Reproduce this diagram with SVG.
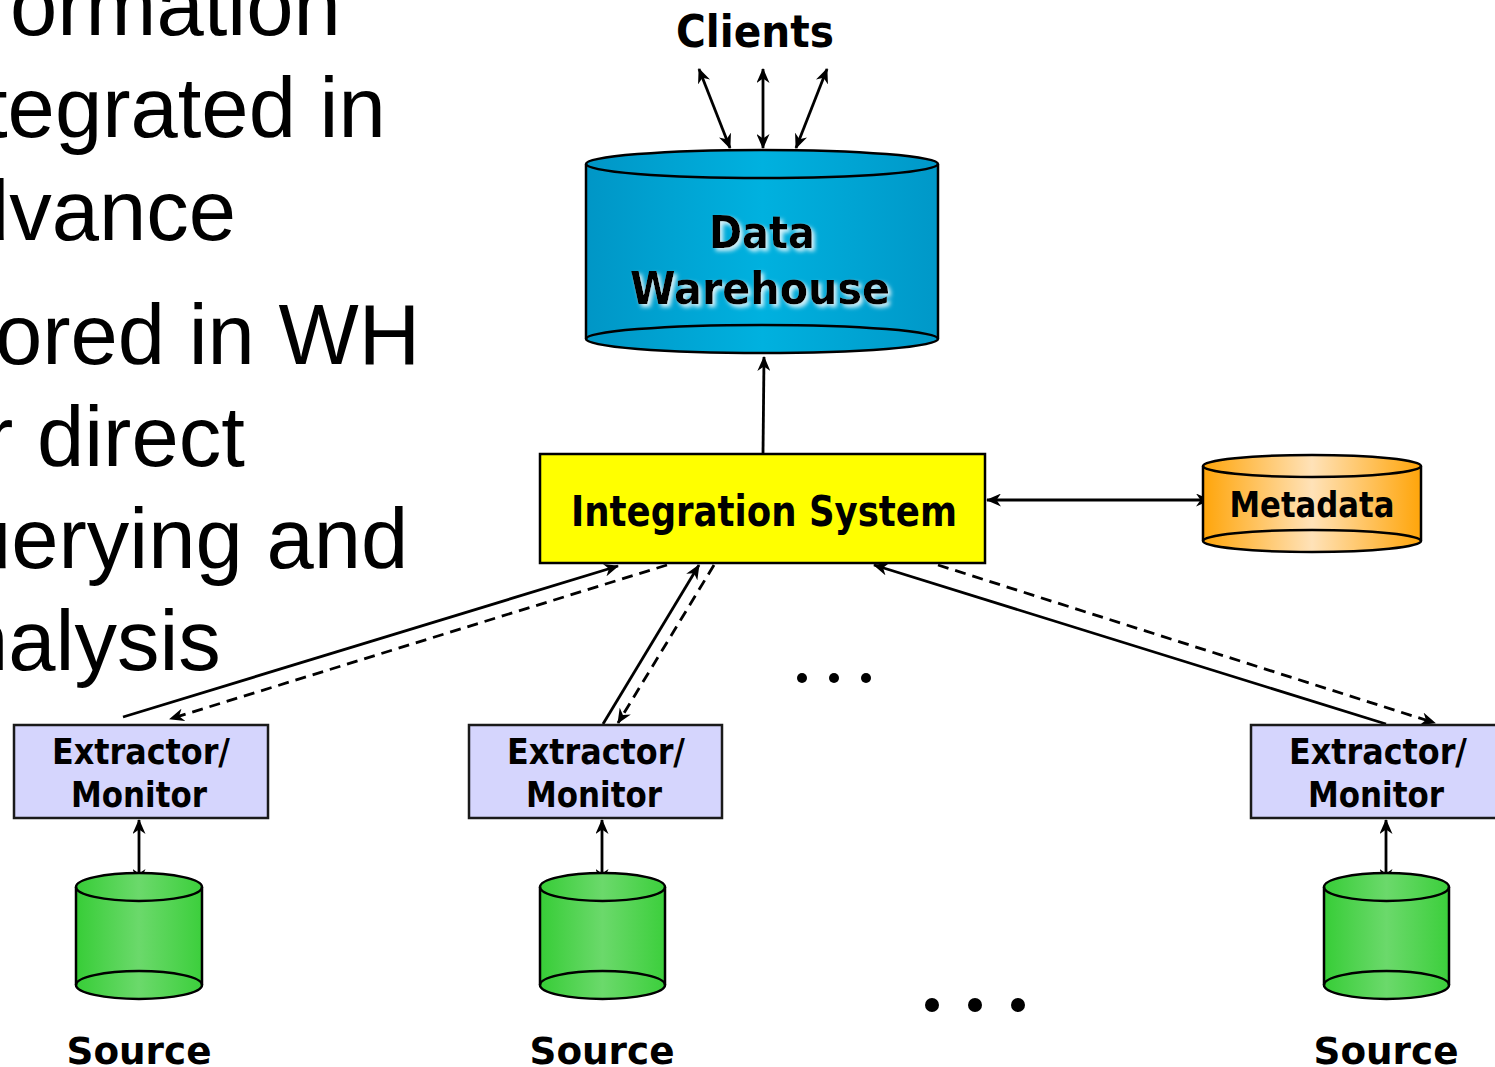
<svg xmlns="http://www.w3.org/2000/svg" width="1495" height="1067" viewBox="0 0 1495 1067">
  <defs>
    <style>
      .bullet { font-family: "Liberation Sans", Arial, sans-serif; font-size: 85px; fill: #000; }
      .lbl { font-family: "DejaVu Sans", Tahoma, Verdana, sans-serif; font-weight: bold; fill: #000; text-anchor: middle; }
      .edge { stroke: #000; stroke-width: 2.8; fill: none; }
      .dash { stroke-dasharray: 11 7; }
      .outline { stroke: #000; stroke-width: 2.5; }
      .box-ext { fill: #d5d5fd; stroke: #1a1a1a; stroke-width: 2.5; }
      .dot { fill: #000; }
    </style>
    <linearGradient id="gBlue" x1="0" y1="0" x2="1" y2="0">
      <stop offset="0" stop-color="#0096c6"/>
      <stop offset="0.5" stop-color="#00b1df"/>
      <stop offset="1" stop-color="#0098c8"/>
    </linearGradient>
    <linearGradient id="gOrange" x1="0" y1="0" x2="1" y2="0">
      <stop offset="0" stop-color="#ffa50a"/>
      <stop offset="0.5" stop-color="#ffe2b8"/>
      <stop offset="1" stop-color="#ffa50a"/>
    </linearGradient>
    <linearGradient id="gGreen" x1="0" y1="0" x2="1" y2="0">
      <stop offset="0" stop-color="#37cd37"/>
      <stop offset="0.5" stop-color="#6bd96b"/>
      <stop offset="1" stop-color="#3ccf3c"/>
    </linearGradient>
    <filter id="glow" x="-10%" y="-20%" width="130%" height="150%">
      <feGaussianBlur in="SourceAlpha" stdDeviation="2"/>
      <feOffset dx="3" dy="3" result="b"/>
      <feFlood flood-color="#ffffff" flood-opacity="0.85"/>
      <feComposite in2="b" operator="in" result="s"/>
      <feMerge>
        <feMergeNode in="s"/>
        <feMergeNode in="SourceGraphic"/>
      </feMerge>
    </filter>
    <marker id="ah" viewBox="0 0 15 13" refX="14" refY="6.5" markerWidth="15" markerHeight="13" markerUnits="userSpaceOnUse" orient="auto-start-reverse">
      <path d="M0,0 L15,6.5 L0,13 L4.5,6.5 Z" fill="#000"/>
    </marker>
  </defs>

  <!-- bullet text on the left, running off the edge -->
  <g id="bullets">
    <text class="bullet" x="10" y="35">ormation</text>
    <text class="bullet" x="-16" y="137">tegrated in</text>
    <text class="bullet" x="-38" y="240">dvance</text>
    <text class="bullet" x="-5" y="364">ored in WH</text>
    <text class="bullet" x="-15" y="466">r direct</text>
    <text class="bullet" x="-36" y="568">uerying and</text>
    <text class="bullet" x="-39" y="670">nalysis</text>
  </g>

  <!-- connectors -->
  <g id="connectors">
    <!-- clients <-> warehouse -->
    <line class="edge" x1="730" y1="148" x2="699" y2="69" marker-start="url(#ah)" marker-end="url(#ah)"/>
    <line class="edge" x1="763" y1="148" x2="763" y2="69" marker-start="url(#ah)" marker-end="url(#ah)"/>
    <line class="edge" x1="796" y1="148" x2="827" y2="69" marker-start="url(#ah)" marker-end="url(#ah)"/>
    <!-- integration -> warehouse -->
    <line class="edge" x1="763" y1="453" x2="764" y2="357" marker-end="url(#ah)"/>
    <!-- integration <-> metadata -->
    <line class="edge" x1="987" y1="500" x2="1210" y2="500" marker-start="url(#ah)" marker-end="url(#ah)"/>
    <!-- extractors -> integration (solid) and back (dashed) -->
    <line class="edge" x1="123" y1="717" x2="618" y2="566" marker-end="url(#ah)"/>
    <line class="edge dash" x1="667" y1="565" x2="170" y2="719" marker-end="url(#ah)"/>
    <line class="edge" x1="603" y1="724" x2="699" y2="565" marker-end="url(#ah)"/>
    <line class="edge dash" x1="714" y1="565" x2="618" y2="723" marker-end="url(#ah)"/>
    <line class="edge" x1="1386" y1="724" x2="874" y2="565" marker-end="url(#ah)"/>
    <line class="edge dash" x1="938" y1="565" x2="1435" y2="723" marker-end="url(#ah)"/>
    <!-- extractors <-> sources -->
    <line class="edge" x1="139" y1="820" x2="139" y2="883" marker-start="url(#ah)" marker-end="url(#ah)"/>
    <line class="edge" x1="602" y1="820" x2="602" y2="883" marker-start="url(#ah)" marker-end="url(#ah)"/>
    <line class="edge" x1="1386" y1="820" x2="1386" y2="883" marker-start="url(#ah)" marker-end="url(#ah)"/>
  </g>

  <!-- clients -->
  <g id="clients">
    <text class="lbl" x="755" y="47" font-size="45" textLength="158" lengthAdjust="spacingAndGlyphs">Clients</text>
  </g>

  <!-- data warehouse cylinder -->
  <g id="warehouse">
    <rect x="586" y="164" width="352" height="175" fill="url(#gBlue)"/>
    <ellipse cx="762" cy="339" rx="176" ry="14" fill="url(#gBlue)" class="outline"/>
    <ellipse cx="762" cy="164" rx="176" ry="14" fill="url(#gBlue)" class="outline"/>
    <line x1="586" y1="164" x2="586" y2="339" class="outline"/>
    <line x1="938" y1="164" x2="938" y2="339" class="outline"/>
    <g filter="url(#glow)">
      <text class="lbl" x="762" y="248" font-size="44" textLength="106" lengthAdjust="spacingAndGlyphs">Data</text>
      <text class="lbl" x="760" y="304" font-size="44" textLength="260" lengthAdjust="spacingAndGlyphs">Warehouse</text>
    </g>
  </g>

  <!-- integration system -->
  <g id="integration">
    <rect x="540" y="454" width="445" height="109" fill="#ffff00" class="outline"/>
    <text class="lbl" x="764" y="526" font-size="42" textLength="386" lengthAdjust="spacingAndGlyphs">Integration System</text>
  </g>

  <!-- metadata cylinder -->
  <g id="metadata">
    <rect x="1203" y="466" width="218" height="75" fill="url(#gOrange)"/>
    <ellipse cx="1312" cy="541" rx="109" ry="11" fill="url(#gOrange)" class="outline"/>
    <ellipse cx="1312" cy="466" rx="109" ry="11" fill="url(#gOrange)" class="outline"/>
    <line x1="1203" y1="466" x2="1203" y2="541" class="outline"/>
    <line x1="1421" y1="466" x2="1421" y2="541" class="outline"/>
    <text class="lbl" x="1312" y="517" font-size="36" textLength="165" lengthAdjust="spacingAndGlyphs">Metadata</text>
  </g>

  <!-- extractor / monitor boxes -->
  <g id="extractor1">
    <rect x="14" y="725" width="254" height="93" class="box-ext"/>
    <text class="lbl" x="141" y="764" font-size="35" textLength="178" lengthAdjust="spacingAndGlyphs">Extractor/</text>
    <text class="lbl" x="139" y="807" font-size="36" textLength="136" lengthAdjust="spacingAndGlyphs">Monitor</text>
  </g>
  <g id="extractor2">
    <rect x="469" y="725" width="253" height="93" class="box-ext"/>
    <text class="lbl" x="596" y="764" font-size="35" textLength="178" lengthAdjust="spacingAndGlyphs">Extractor/</text>
    <text class="lbl" x="594" y="807" font-size="36" textLength="136" lengthAdjust="spacingAndGlyphs">Monitor</text>
  </g>
  <g id="extractor3">
    <rect x="1251" y="725" width="254" height="93" class="box-ext"/>
    <text class="lbl" x="1378" y="764" font-size="35" textLength="178" lengthAdjust="spacingAndGlyphs">Extractor/</text>
    <text class="lbl" x="1376" y="807" font-size="36" textLength="136" lengthAdjust="spacingAndGlyphs">Monitor</text>
  </g>

  <!-- source cylinders -->
  <g id="source1">
    <rect x="76" y="887" width="126" height="98" fill="url(#gGreen)"/>
    <ellipse cx="139" cy="985" rx="63" ry="14" fill="url(#gGreen)" class="outline"/>
    <ellipse cx="139" cy="887" rx="63" ry="14" fill="url(#gGreen)" class="outline"/>
    <line x1="76" y1="887" x2="76" y2="985" class="outline"/>
    <line x1="202" y1="887" x2="202" y2="985" class="outline"/>
    <text class="lbl" x="139" y="1064" font-size="38" textLength="145" lengthAdjust="spacingAndGlyphs">Source</text>
  </g>
  <g id="source2">
    <rect x="540" y="887" width="125" height="98" fill="url(#gGreen)"/>
    <ellipse cx="602.5" cy="985" rx="62.5" ry="14" fill="url(#gGreen)" class="outline"/>
    <ellipse cx="602.5" cy="887" rx="62.5" ry="14" fill="url(#gGreen)" class="outline"/>
    <line x1="540" y1="887" x2="540" y2="985" class="outline"/>
    <line x1="665" y1="887" x2="665" y2="985" class="outline"/>
    <text class="lbl" x="602" y="1064" font-size="38" textLength="145" lengthAdjust="spacingAndGlyphs">Source</text>
  </g>
  <g id="source3">
    <rect x="1324" y="887" width="125" height="98" fill="url(#gGreen)"/>
    <ellipse cx="1386.5" cy="985" rx="62.5" ry="14" fill="url(#gGreen)" class="outline"/>
    <ellipse cx="1386.5" cy="887" rx="62.5" ry="14" fill="url(#gGreen)" class="outline"/>
    <line x1="1324" y1="887" x2="1324" y2="985" class="outline"/>
    <line x1="1449" y1="887" x2="1449" y2="985" class="outline"/>
    <text class="lbl" x="1386" y="1064" font-size="38" textLength="145" lengthAdjust="spacingAndGlyphs">Source</text>
  </g>

  <!-- ellipsis marks -->
  <g id="ellipsis-mid">
    <circle class="dot" cx="802" cy="678" r="5"/>
    <circle class="dot" cx="834" cy="678" r="5"/>
    <circle class="dot" cx="866" cy="678" r="5"/>
  </g>
  <g id="ellipsis-low">
    <circle class="dot" cx="932" cy="1005" r="7"/>
    <circle class="dot" cx="975" cy="1005" r="7"/>
    <circle class="dot" cx="1018" cy="1005" r="7"/>
  </g>
</svg>
